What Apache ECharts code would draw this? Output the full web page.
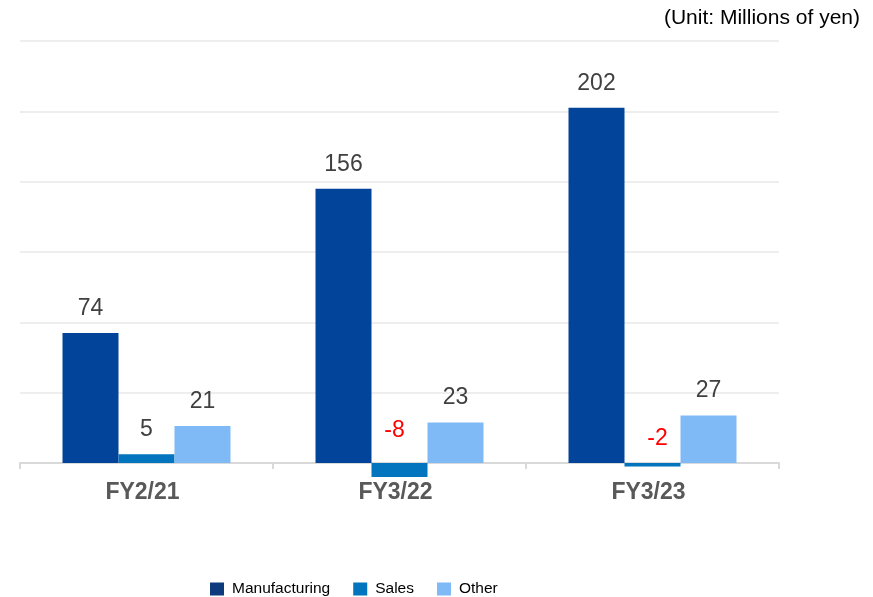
<!DOCTYPE html>
<html>
<head>
<meta charset="utf-8">
<script src="https://cdn.jsdelivr.net/npm/echarts@6/dist/echarts.min.js"></script>
<style>
  html, body { margin: 0; padding: 0; background: #ffffff; }
  #chart { width: 873px; height: 597px; }
</style>
</head>
<body>
<div id="chart"></div>
<script>
// Fiscal years along the category axis
const categories = ['FY2/21', 'FY3/22', 'FY3/23'];

// Segment profit, millions of yen
const manufacturing = [74, 156, 202];
const sales = [5, -8, -2];
const other = [21, 23, 27];

// Value axis ticks
const yMin = 0;
const yMax = 240;
const yStep = 40;

const FONT = '"Liberation Sans", Arial, sans-serif';

function valueLabel(v, i) {
  // losses are printed in red beside their short bars
  if (v >= 0) return { value: v, label: { color: '#404040' } };
  const deep = v < -5;
  return {
    value: v,
    label: { color: '#ff0000', offset: deep ? [-5, -8] : [5, 0] }
  };
}

function barSeries(name, values, color) {
  return {
    name: name,
    type: 'bar',
    data: values.map(valueLabel),
    barGap: '0%',
    barCategoryGap: '33.6%',
    clip: false,
    itemStyle: { color: color },
    label: {
      show: true,
      position: 'top',
      distance: 13,
      fontFamily: FONT,
      fontSize: 23,
      color: '#404040'
    },
    emphasis: { disabled: true }
  };
}

const chart = echarts.init(document.getElementById('chart'), null, { renderer: 'canvas' });

chart.setOption({
  animation: false,
  backgroundColor: '#ffffff',
  textStyle: { fontFamily: FONT },
  title: {
    text: '(Unit: Millions of yen)',
    right: 13,
    top: 8,
    padding: 0,
    textStyle: { fontFamily: FONT, fontSize: 21, fontWeight: 'normal', color: '#000000' }
  },
  grid: { left: 20, right: 94, top: 41, bottom: 134, containLabel: false },
  legend: {
    left: 205,
    top: 576,
    itemWidth: 14,
    itemHeight: 13,
    itemGap: 23,
    icon: 'rect',
    textStyle: { fontFamily: FONT, fontSize: 15.5, color: '#000000', padding: [0, 0, 0, 3] },
    data: [
      { name: 'Manufacturing', itemStyle: { color: '#0e3b7d' } },
      { name: 'Sales', itemStyle: { color: '#0275be' } },
      { name: 'Other', itemStyle: { color: '#7fbaf7' } }
    ]
  },
  xAxis: {
    type: 'category',
    data: categories,
    axisLine: { show: true, lineStyle: { color: '#d9d9d9', width: 2 } },
    axisTick: { show: true, length: 6, lineStyle: { color: '#d9d9d9', width: 2 } },
    axisLabel: {
      margin: 18,
      fontFamily: FONT,
      fontSize: 23,
      fontWeight: 'bold',
      color: '#595959',
      padding: [0, 8, 0, 0]
    }
  },
  yAxis: {
    type: 'value',
    min: yMin,
    max: yMax,
    interval: yStep,
    axisLine: { show: false },
    axisTick: { show: false },
    axisLabel: { show: false },
    splitLine: { lineStyle: { color: '#eeeeee', width: 2 } }
  },
  series: [
    barSeries('Manufacturing', manufacturing, '#02449a'),
    barSeries('Sales', sales, '#0275be'),
    barSeries('Other', other, '#7fbaf7')
  ]
});
</script>
</body>
</html>
